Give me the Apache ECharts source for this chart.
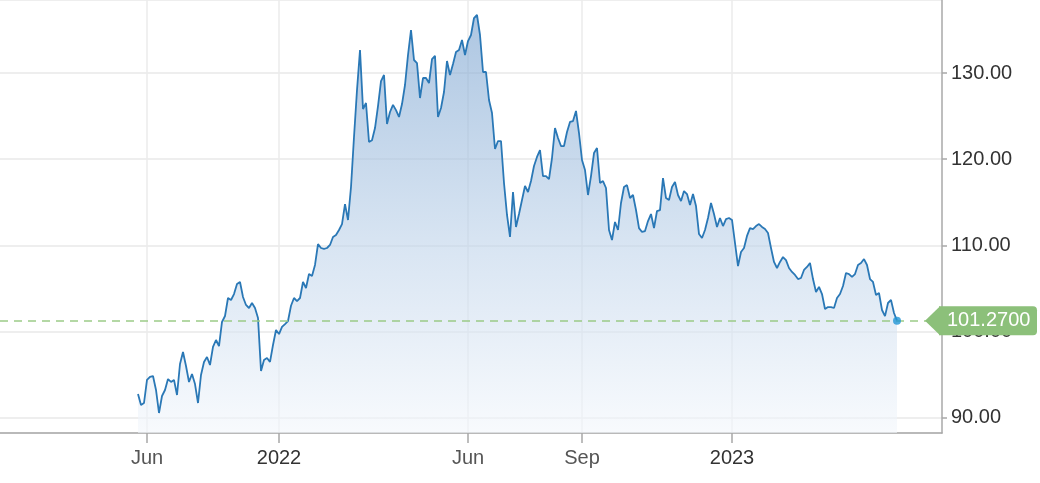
<!DOCTYPE html>
<html>
<head>
<meta charset="utf-8">
<script src="https://cdn.jsdelivr.net/npm/echarts@6/dist/echarts.min.js"></script>
<style>
html,body{margin:0;padding:0;background:#fff;}
#c{width:1040px;height:483px;}
</style>
</head>
<body>
<div id="c"></div>
<script>
// ---- data ----
const values2021 = [92.76,91.5,91.72,94.4,94.74,94.85,93.23,90.56,92.53,93.23,94.5,94.16,94.4,92.65,96.24,97.64,96.01,94.16,95.08,93.92,91.72,94.97,96.48,97.06,96.13,98.22,99.03,98.33,101.12,101.81,103.9,103.67,104.36,105.52,105.76,104.02,103.09,102.74,103.32,102.74,101.58,95.43,96.71,96.94,96.48,98.45,100.19];
const values2022a = [99.72,100.54,100.88,101.23,103.0,103.9,103.55,103.9,105.76,105.06,106.68,106.45,107.73,110.16,109.7,109.6,109.7,110.05,110.98,111.2,111.79,112.48,114.8,112.95,116.78,122.58,128.03,132.67,125.82,126.52,122.0,122.2,123.62,126.17,129.07,129.77,124.08,125.48,126.3,125.7,124.9,126.4,128.61,132.09,134.99,131.51,131.16,127.1,129.42,129.42,128.84,131.62,132.0,124.9,125.94,127.8,131.39,129.77,131.04,132.44,132.67,133.83,132.09];
const values2022b = [133.71,134.41,136.38,136.73,134.41,130.12,130.12,126.87,125.36,121.18,122.11,122.11,117.24,113.53,110.98,116.2,112.14,113.64,115.27,116.9,116.2,117.47,119.21,120.26,121.07,118.05,118.05,117.7,120.14,123.62,122.46,121.53,121.53,123.16,124.32,124.43,125.6,123.04];
const values2022c = [119.91,118.75,115.85,118.05,120.72,121.3,117.24,117.47,116.66,111.79,110.63,112.72,111.79,114.92,116.78,117.0,115.5,115.85,114.11,112.0,111.56,111.67,112.83,113.64,112.0,113.99,114.1,117.82,115.5,115.27,116.78,117.36,115.85,115.15,116.31,115.96,114.69,115.96,114.57,111.32,110.86,111.79,113.18,114.92,113.64,112.14,113.18,112.25,113.06,113.18];
const values2023 = [112.95,110.28,107.61,109.24,109.7,111.1,112.0,111.9,112.25,112.48,112.14,111.9,111.44,109.7,108.08,107.38,108.08,108.65,108.3,107.38,106.92,106.57,106.1,106.22,107.15,107.5,107.96,106.1,104.6,105.18,104.36,102.62,102.85,102.85,102.74,103.9,104.36,105.29,106.8,106.68,106.34,106.68,107.73,107.96,108.42,107.73,106.1,105.76,104.25,104.48,102.51,101.8,103.32,103.67,102.16,101.27];

// tick labels and the data index at which each one falls
const tickLabels = ['Jun', '2022', 'Jun', 'Sep', '2023'];
const tickIndex = [3, 47, 110, 148, 198];

// empty slots before / after the series on the ordinal axis
const leadSlots = 46;
const tailSlots = 15;

// ---- build ----
const series = [].concat(values2021, values2022a, values2022b, values2022c, values2023);
const last = series[series.length - 1];
const N = leadSlots + series.length + tailSlots;
const cats = [];
for (let i = 0; i < N; i++) cats.push('');
tickIndex.forEach((p, j) => { cats[leadSlots + p] = tickLabels[j]; });
const lineData = new Array(leadSlots).fill(null).concat(series, new Array(tailSlots).fill(null));
const lastIdx = leadSlots + series.length - 1;

const isTick = (idx, val) => val !== '';
const FONT = '"Liberation Sans", Arial, sans-serif';

const chart = echarts.init(document.getElementById('c'), null, {renderer: 'canvas'});
chart.setOption({
  animation: false,
  textStyle: {fontFamily: FONT},
  grid: {left: 0, right: 98, top: 0, bottom: 50, containLabel: false},
  xAxis: {
    type: 'category',
    data: cats,
    boundaryGap: false,
    axisLine: {lineStyle: {color: '#a8a8a8', width: 1.5}},
    axisTick: {show: true, interval: isTick, length: 10, lineStyle: {color: '#a8a8a8', width: 1.5}},
    axisLabel: {
      interval: isTick, margin: 15, fontSize: 20, color: '#555', fontFamily: FONT,
      formatter: v => /^\d{4}$/.test(v) ? '{yr|' + v + '}' : v,
      rich: {yr: {fontSize: 20, color: '#333', fontFamily: FONT}}
    },
    splitLine: {show: true, interval: isTick, lineStyle: {color: '#ebebeb', width: 1.5}}
  },
  yAxis: {
    type: 'value',
    position: 'right',
    min: 88.24,
    max: 138.47,
    splitNumber: 5,
    axisLine: {show: true, lineStyle: {color: '#a8a8a8', width: 1.5}},
    axisTick: {show: true, length: 5, lineStyle: {color: '#a8a8a8', width: 1.5}},
    axisLabel: {
      margin: 9, fontSize: 20, color: '#333', fontFamily: FONT,
      showMinLabel: false, showMaxLabel: false,
      formatter: v => v.toFixed(2)
    },
    splitLine: {lineStyle: {color: '#e8e8e8', width: 1.5}}
  },
  series: [
    {
      type: 'line', data: lineData, z: 1, silent: true,
      symbol: 'none', showSymbol: false,
      lineStyle: {opacity: 0},
      markLine: {
        silent: true, symbol: ['none', 'none'], label: {show: false},
        lineStyle: {color: '#9ccb88', type: [8, 6], width: 1.5},
        data: [{yAxis: last}]
      }
    },
    {
      type: 'line', data: lineData, z: 2,
      symbol: 'none', showSymbol: false,
      lineStyle: {color: '#2a78b6', width: 1.8},
      areaStyle: {
        color: new echarts.graphic.LinearGradient(0, 0, 0, 1, [
          {offset: 0, color: 'rgba(118,160,206,0.85)'},
          {offset: 0.55, color: 'rgba(190,211,234,0.85)'},
          {offset: 1, color: 'rgba(243,247,252,0.85)'}
        ])
      }
    },
    {
      type: 'scatter', z: 5,
      data: [[lastIdx, last]],
      symbolSize: 8,
      itemStyle: {color: '#2195d6'}
    }
  ]
});

const yPix = chart.convertToPixel({yAxisIndex: 0}, last);
chart.setOption({
  graphic: [
    {type: 'polygon', z: 100, shape: {points: [[925, yPix], [940, yPix - 14.5], [940, yPix + 14.5]]}, style: {fill: '#8cc07a'}},
    {type: 'rect', z: 100, shape: {x: 939, y: yPix - 14.5, width: 98, height: 29, r: [0, 4, 4, 0]}, style: {fill: '#8cc07a'}},
    {type: 'text', z: 101, x: 947, y: yPix, style: {text: last.toFixed(4), fill: '#fff', fontSize: 20, fontFamily: FONT, verticalAlign: 'middle', align: 'left'}}
  ]
});
</script>
</body>
</html>
